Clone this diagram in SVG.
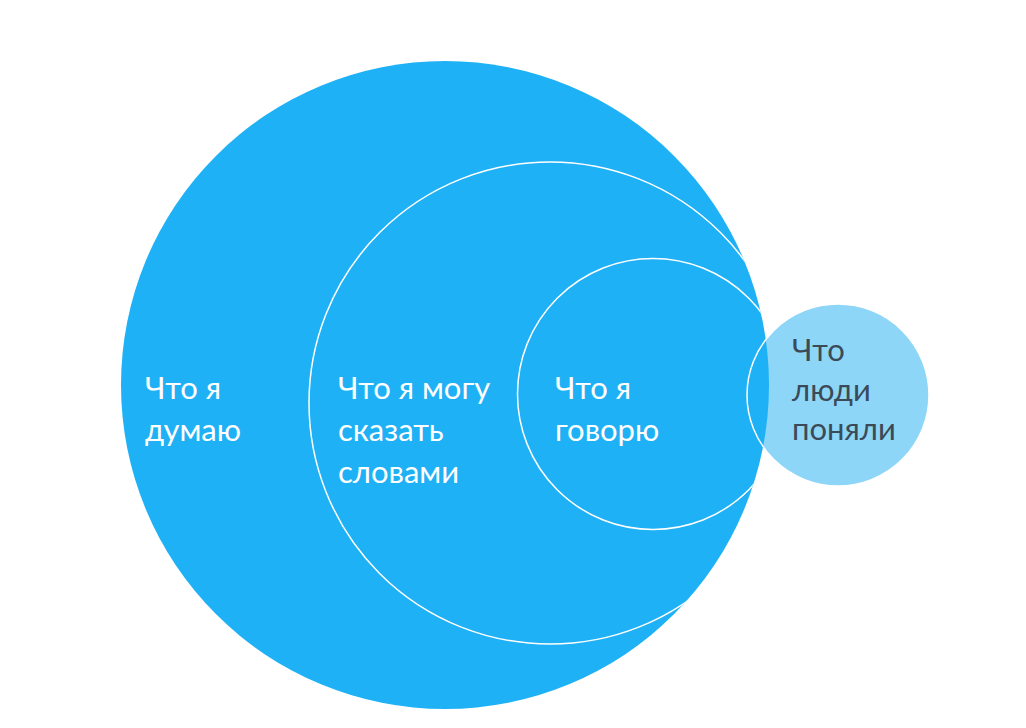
<svg xmlns="http://www.w3.org/2000/svg" width="1026" height="728" viewBox="0 0 1026 728">
  <style>
    .lbl { font-family: Lato, "Open Sans", "DejaVu Sans", sans-serif; font-size: 31px; fill: #ffffff; }
    .lbl-dark { fill: #3b4a56; }
    .ring { fill: none; stroke: #ffffff; stroke-width: 1.5; }
  </style>
  <defs>
    <clipPath id="bigClip">
      <circle cx="445" cy="385" r="324"/>
    </clipPath>
  </defs>
  <rect width="1026" height="728" fill="#ffffff"/>
  <g id="node-people">
    <circle cx="838" cy="395" r="91" fill="#8dd6f8"/>
  </g>
  <g id="node-think">
    <circle cx="445" cy="385" r="324" fill="#1fb1f5"/>
    <text class="lbl" x="145" y="399">Что я</text>
    <text class="lbl" x="145" y="441">думаю</text>
  </g>
  <g id="node-words">
    <circle class="ring" cx="550" cy="403" r="241" clip-path="url(#bigClip)"/>
    <text class="lbl" x="338" y="399">Что я могу</text>
    <text class="lbl" x="338" y="441">сказать</text>
    <text class="lbl" x="338" y="483">словами</text>
  </g>
  <g id="node-say">
    <circle class="ring" cx="653" cy="394" r="135.5" clip-path="url(#bigClip)"/>
    <text class="lbl" x="555" y="399">Что я</text>
    <text class="lbl" x="555" y="441">говорю</text>
  </g>
  <g id="node-people-label">
    <circle class="ring" cx="838" cy="395" r="91"/>
    <text class="lbl lbl-dark" x="792" y="361">Что</text>
    <text class="lbl lbl-dark" x="792" y="401">люди</text>
    <text class="lbl lbl-dark" x="792" y="440">поняли</text>
  </g>
  <g id="connectors"/>
</svg>
